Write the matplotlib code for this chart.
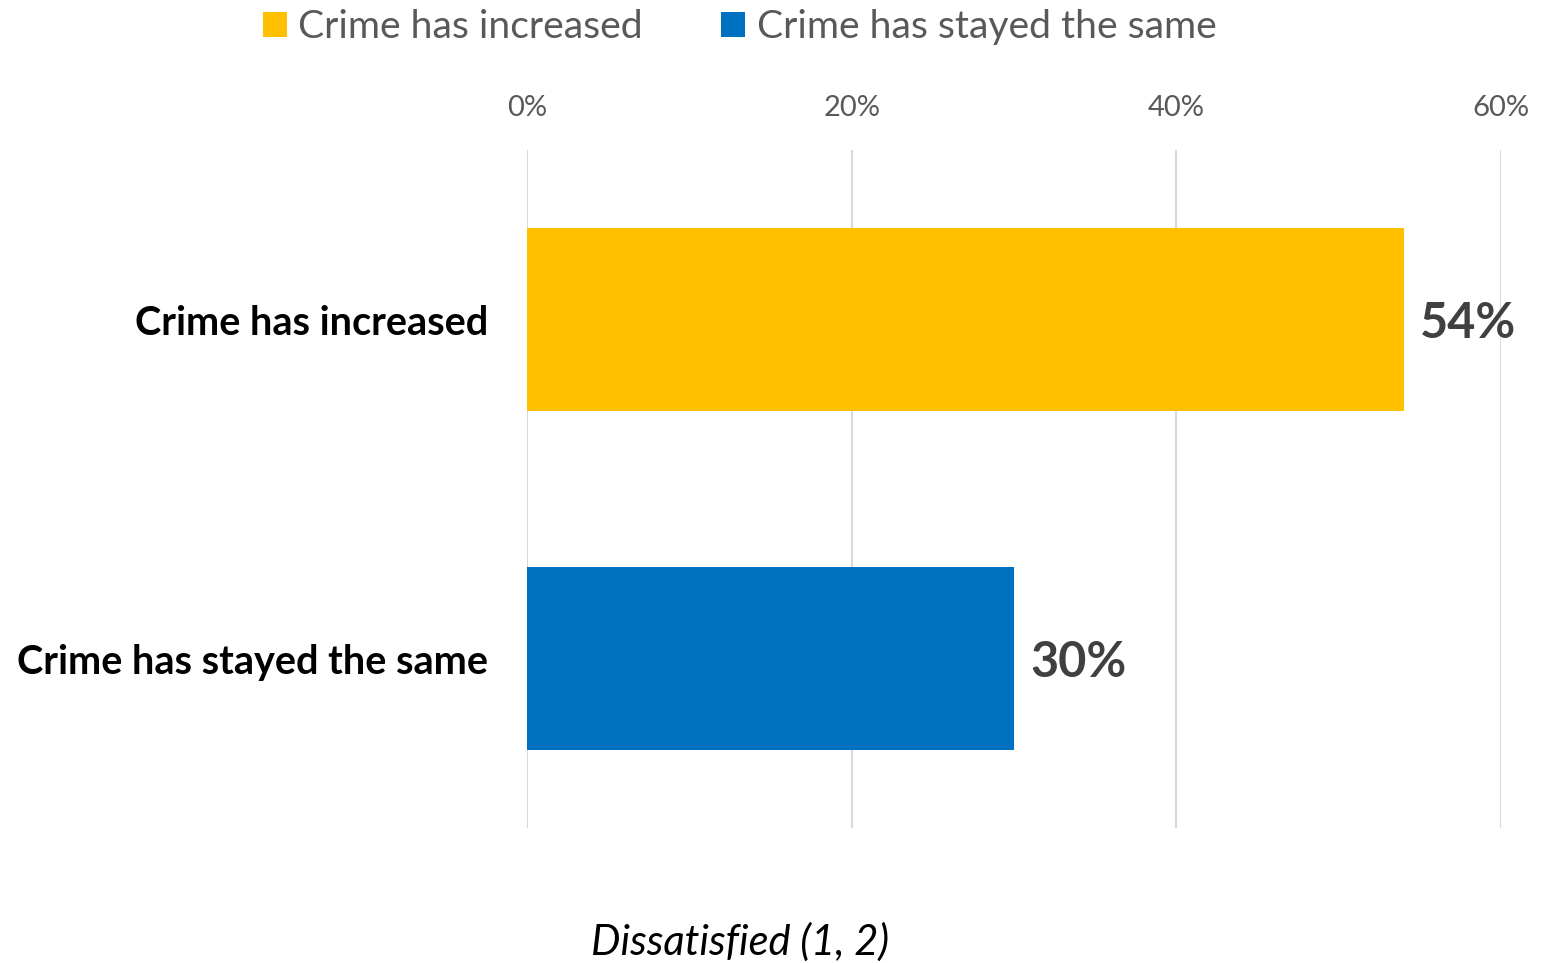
from matplotlib import pyplot as plt
from matplotlib.patches import Patch

plt.rcParams['font.family'] = ['Lato', 'DejaVu Sans']

# data
categories = ['Crime has increased', 'Crime has stayed the same']
values = [54, 30]
colors = ['#FFC000', '#0070C0']
xticks = [0, 20, 40, 60]

fig = plt.figure(figsize=(15.41, 9.63), dpi=100)
ax = fig.add_axes([0.342, 0.140, 0.632, 0.704])

ypos = list(range(len(categories)))
ax.barh(ypos, values, height=0.54, color=colors, zorder=2)

for y, v in zip(ypos, values):
    ax.text(v + 1.0, y + 0.01, f'{v}%', va='center', ha='left',
            fontsize=35, fontweight='bold', color='#404040')

ax.set_xlim(0, 60)
ax.set_ylim(1.5, -0.5)
ax.set_yticks(ypos)
ax.set_yticklabels(categories, fontsize=28.5, fontweight='bold', color='black')
ax.tick_params(axis='y', length=0, pad=28)

ax.xaxis.tick_top()
ax.set_xticks(xticks)
ax.set_xticklabels([f'{t}%' for t in xticks], fontsize=21, color='#595959')
ax.tick_params(axis='x', length=0, pad=21)
ax.grid(axis='x', color='#D9D9D9', linewidth=1.5, zorder=0)

for s in ax.spines.values():
    s.set_visible(False)

handles = [Patch(facecolor=c, label=l) for c, l in zip(colors, categories)]
fig.legend(handles=handles, loc='center', bbox_to_anchor=(0.48, 0.972),
           ncol=2, frameon=False, fontsize=28.2, handlelength=0.6, handleheight=0.6,
           handletextpad=0.3, columnspacing=2.0, labelcolor='#595959')

fig.text(0.48, 0.022, 'Dissatisfied (1, 2)', ha='center', va='center',
         fontsize=30, fontstyle='italic', color='black')

fig.savefig('out.png', dpi=100)
